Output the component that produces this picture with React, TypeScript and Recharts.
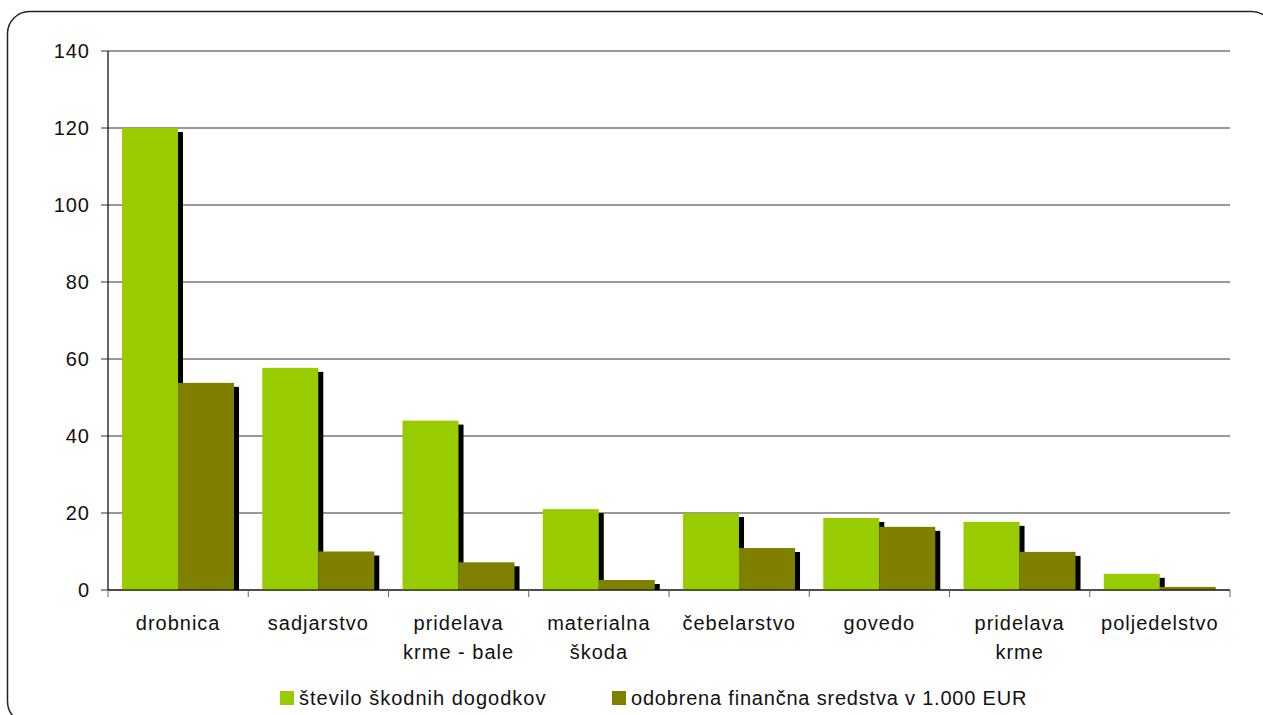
import React from 'react';
import { BarChart, Bar, XAxis, YAxis, CartesianGrid } from 'recharts';

const categories = [
  'drobnica',
  'sadjarstvo',
  'pridelava\nkrme - bale',
  'materialna\nškoda',
  'čebelarstvo',
  'govedo',
  'pridelava\nkrme',
  'poljedelstvo',
];
const steviloSkodnih = [120, 57.7, 44, 21, 20, 18.7, 17.7, 4.2];
const odobrenaSredstva = [53.8, 10, 7.2, 2.6, 10.9, 16.4, 9.9, 0.8];
const yTicks = [0, 20, 40, 60, 80, 100, 120, 140];
const seriesNames = ['število škodnih dogodkov', 'odobrena finančna sredstva v 1.000 EUR'];
const seriesColors = ['#99CC00', '#808000'];

const data = categories.map((c, i) => ({
  name: c,
  a: steviloSkodnih[i],
  b: odobrenaSredstva[i],
}));

const FONT = '"Liberation Sans", Arial, Helvetica, sans-serif';
const CHART_W = 1247;
const CHART_H = 699;
const MARGIN = { top: 43, right: 25, left: 0, bottom: 0 };
const Y_W = 100;
const PLOT_W = CHART_W - MARGIN.left - MARGIN.right - Y_W;
const BAND = PLOT_W / categories.length;

const ShadowBar = (props: any) => {
  const { x, y, width, height, fill } = props;
  if (height == null || height <= 0) return null;
  const sh = height - 4;
  return (
    <g>
      {sh > 0 && <rect x={x + 5} y={y + 4} width={width} height={sh} fill="#000" />}
      <rect x={x} y={y} width={width} height={height} fill={fill} />
    </g>
  );
};

const XTick = (props: any) => {
  const { x, y, payload, index } = props;
  const lines = String(payload.value).split('\n');
  return (
    <g>
      <line x1={x - BAND / 2} y1={y} x2={x - BAND / 2} y2={y + 7} stroke="#666" strokeWidth={1} />
      {index === categories.length - 1 && (
        <line x1={x + BAND / 2} y1={y} x2={x + BAND / 2} y2={y + 7} stroke="#666" strokeWidth={1} />
      )}
      {lines.map((l, i) => (
        <text
          key={i}
          x={x}
          y={y + 33 + i * 29}
          textAnchor="middle"
          dominantBaseline="central"
          fontSize={20}
          fontFamily={FONT}
          letterSpacing={1}
          fill="#111"
        >
          {l}
        </text>
      ))}
    </g>
  );
};

export default function App() {
  return (
    <div
      style={{
        position: 'fixed',
        left: 0,
        top: 0,
        width: 1263,
        height: 715,
        overflow: 'hidden',
        fontFamily: FONT,
        background: '#fff',
      }}
    >
      <svg width={1263} height={715} style={{ position: 'absolute', left: 0, top: 0 }}>
        <rect x={7.5} y={11.5} width={1266} height={712} rx={22} ry={22} fill="none" stroke="#222" strokeWidth={1.5} />
      </svg>
      <div style={{ position: 'absolute', left: 8, top: 8 }}>
        <BarChart
          width={CHART_W}
          height={CHART_H}
          data={data}
          margin={MARGIN}
          barCategoryGap="10%"
          barGap={0}
        >
          <CartesianGrid vertical={false} stroke="#333" strokeWidth={1} />
          <XAxis
            dataKey="name"
            interval={0}
            tickLine={false}
            tickSize={0}
            tickMargin={0}
            height={117}
            axisLine={{ stroke: '#000', strokeWidth: 1.2 }}
            tick={<XTick />}
          />
          <YAxis
            domain={[0, 140]}
            ticks={yTicks}
            width={Y_W}
            tickSize={7}
            tickMargin={11}
            axisLine={{ stroke: '#000', strokeWidth: 1.2 }}
            tickLine={{ stroke: '#333' }}
            tick={{ fontSize: 20, fontFamily: FONT, fill: '#111', letterSpacing: 1 }}
          />
          <Bar dataKey="a" fill={seriesColors[0]} shape={<ShadowBar />} isAnimationActive={false} />
          <Bar dataKey="b" fill={seriesColors[1]} shape={<ShadowBar />} isAnimationActive={false} />
        </BarChart>
      </div>
      {seriesNames.map((n, i) => (
        <div
          key={n}
          style={{
            position: 'absolute',
            left: i === 0 ? 280 : 612,
            top: 687,
            height: 22,
            display: 'flex',
            alignItems: 'center',
            fontSize: 20,
            letterSpacing: i === 0 ? 1 : 0.8,
            color: '#111',
            whiteSpace: 'nowrap',
          }}
        >
          <span style={{ display: 'inline-block', width: 14, height: 14, background: seriesColors[i], marginRight: 5 }} />
          <span>{n}</span>
        </div>
      ))}
    </div>
  );
}
